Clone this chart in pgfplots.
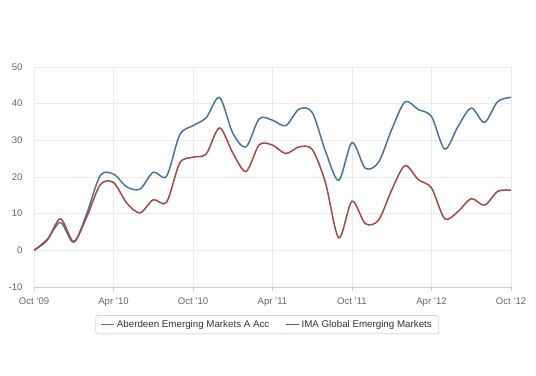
\documentclass[border=0pt]{standalone}
\usepackage{fontspec}
\setmainfont{Liberation Sans}
\usepackage{pgfplots}
\pgfplotsset{compat=1.18}
\definecolor{hcblue}{HTML}{4572A7}
\definecolor{hcred}{HTML}{AA4643}
\definecolor{gridc}{HTML}{EBEBEB}
\definecolor{labc}{HTML}{666666}
\definecolor{axc}{HTML}{C0D0E0}
\begin{document}
\begin{tikzpicture}[x=1bp,y=1bp]
\path (-34,-88) rectangle (502,287);
\begin{axis}[
  at={(0,0)}, anchor=south west,
  scale only axis, width=477bp, height=220bp,
  xmin=0, xmax=36, ymin=-10, ymax=50,
  xtick={0,6,12,18,24,30,36},
  xticklabels={Oct '09,Apr '10,Oct '10,Apr '11,Oct '11,Apr '12,Oct '12},
  ytick={-10,0,10,20,30,40,50},
  grid=major, grid style={gridc, line width=0.6bp},
  axis x line*=bottom, axis y line*=left,
  x axis line style={axc, line width=0.8bp},
  y axis line style={draw=none},
  tick align=outside,
  xtick style={axc, line width=0.8bp},
  major tick length=4bp,
  ytick style={draw=none},
  /pgf/number format/assume math mode=true,
  tick label style={font=\fontsize{9.6}{11}\selectfont, text=labc},
  yticklabel style={xshift=-4bp},
  xticklabel style={yshift=-3bp},
  legend columns=2,
  legend style={at={(0.489,-0.128)}, anchor=north, draw=gray!55, rounded corners=2.5bp,
    font=\fontsize{9.8}{11}\selectfont, text=black!80, inner xsep=5bp, inner ysep=3bp,
    /tikz/every even column/.append style={column sep=14bp}},
  legend image code/.code={\draw[#1, line width=1.2bp] (0bp,0bp) -- (13bp,0bp);},
]
\addplot[hcblue, line width=1.5bp, smooth, tension=0.5] coordinates {
(0,0) (1,3.0) (2,7.6) (3,2.2) (4,10.2) (5,20.4) (6,20.8) (7,17.3) (8,16.7) (9,21.3)
(10,20.2) (11,31.5) (12,34) (13,36.2) (14,41.7) (15,32) (16,28.2) (17,35.9) (18,35.5)
(19,34) (20,38.5) (21,37.6) (22,27) (23,19.1) (24,29.4) (25,22.4) (26,24) (27,33)
(28,40.5) (29,38.4) (30,36.5) (31,27.6) (32,33.8) (33,38.8) (34,34.9) (35,40.6) (36,41.7)
};
\addlegendentry{Aberdeen Emerging Markets A Acc}
\addplot[hcred, line width=1.5bp, smooth, tension=0.5] coordinates {
(0,0) (1,2.8) (2,8.6) (3,2.4) (4,9.3) (5,17.9) (6,18.5) (7,12.9) (8,10.2) (9,13.8)
(10,13.1) (11,23.8) (12,25.4) (13,26.3) (14,33.4) (15,26.6) (16,21.5) (17,28.8) (18,28.7)
(19,26.4) (20,28.2) (21,27.5) (22,18.4) (23,3.4) (24,13.4) (25,7.3) (26,8.2) (27,16.5)
(28,23.1) (29,19.3) (30,17) (31,8.6) (32,10.6) (33,14.1) (34,12.3) (35,16.1) (36,16.4)
};
\addlegendentry{IMA Global Emerging Markets\hspace{10bp}}
\end{axis}
\end{tikzpicture}
\end{document}
